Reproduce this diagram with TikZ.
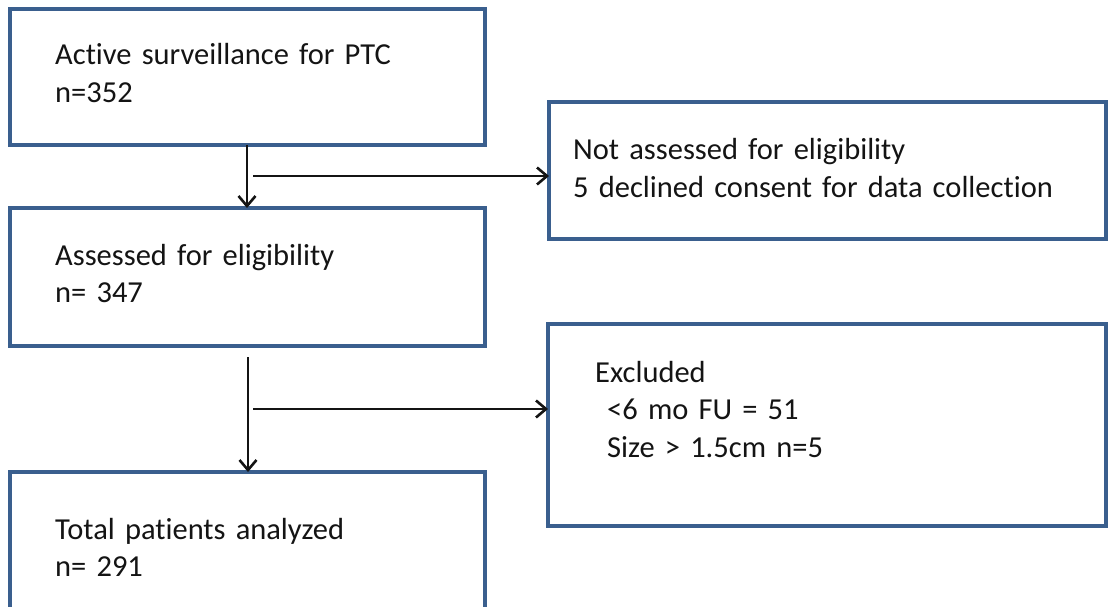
\documentclass[tikz,border=0pt]{standalone}
\usepackage{fontspec}
\setmainfont{Carlito}[Ligatures=NoCommon]
\usetikzlibrary{arrows.meta}
\definecolor{boxline}{HTML}{3A5F8E}
\definecolor{txt}{HTML}{141414}
\tikzset{
  flowbox/.style={draw=boxline, line width=3.2pt, rectangle, outer sep=0pt, inner sep=0pt, anchor=north west, fill=white},
  boxtext/.style={anchor=base west, inner sep=0pt, align=left, text width=540pt, text=txt,
    font=\fontsize{30.5}{37.5}\selectfont},
  flowarrow/.style={draw=black!92, line width=2.6pt, -{Straight Barb[length=10pt, width=17pt, line width=2.6pt]}}
}
\begin{document}
\begin{tikzpicture}[x=1pt, y=-1pt]
\clip (0,0) rectangle (1108,607);
\fill[white] (0,0) rectangle (1108,607);
% boxes
\node[flowbox, minimum width=475pt, minimum height=136pt] (b1) at (10,9) {};
\node[flowbox, minimum width=475pt, minimum height=138pt] (b2) at (10,208) {};
\node[flowbox, minimum width=475pt, minimum height=160pt] (b3) at (10,472) {};
\node[flowbox, minimum width=557pt, minimum height=137pt] (r1) at (549,102) {};
\node[flowbox, minimum width=558pt, minimum height=202pt] (r2) at (548,324) {};
% texts
\node[boxtext] (t1) at (55,65) {Active surveillance for PTC\\n=352};
\node[boxtext] (t2) at (55,265) {Assessed for eligibility\\n= 347};
\node[boxtext] (t3) at (55,539) {Total patients analyzed\\n= 291};
\node[boxtext] (tr1) at (573,160) {Not assessed for eligibility\\5 declined consent for data collection};
\node[boxtext] (tr2) at (595,382) {Excluded\\\hspace*{12pt}<6 mo FU = 51\\\hspace*{12pt}Size > 1.5cm n=5};
% connectors
\coordinate (j1) at (253,176);
\coordinate (s2) at (248,357);
\coordinate (j2) at (253,409);
\draw[flowarrow] (b1.south -| 247,0) -- (b2.north -| 247,0);
\draw[flowarrow] (j1) -- (j1 -| r1.west);
\draw[flowarrow] (s2) -- (s2 |- b3.north);
\draw[flowarrow] (j2) -- (j2 -| r2.west);
\end{tikzpicture}
\end{document}
